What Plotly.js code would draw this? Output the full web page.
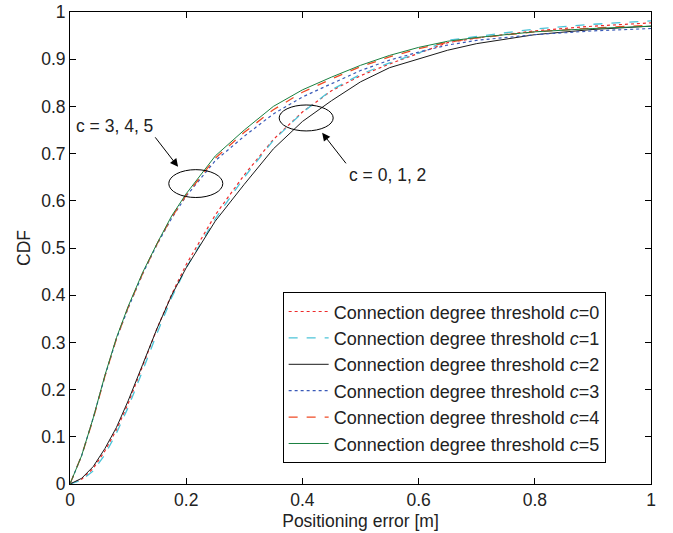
<!DOCTYPE html>
<html>
<head>
<meta charset="utf-8">
<script src="https://cdn.plot.ly/plotly-3.0.1.min.js"></script>
<style>html,body{margin:0;padding:0;background:#fff;}#chart{width:673px;height:533px;}</style>
</head>
<body>
<div id="chart"></div>
<script>
// Positioning error [m]
const xErr = [0, 0.02, 0.04, 0.06, 0.08, 0.1, 0.125, 0.15, 0.175, 0.2, 0.25, 0.3, 0.35, 0.4, 0.45, 0.5, 0.55, 0.6, 0.65, 0.7, 0.8, 0.9, 1.0];
// CDF for each connection degree threshold
const cdfC0 = [0, 0.010, 0.033, 0.070, 0.115, 0.170, 0.250, 0.330, 0.402, 0.465, 0.570, 0.655, 0.730, 0.788, 0.833, 0.865, 0.890, 0.912, 0.935, 0.945, 0.960, 0.970, 0.977];
const cdfC1 = [0, 0.008, 0.028, 0.062, 0.108, 0.162, 0.240, 0.320, 0.395, 0.458, 0.562, 0.650, 0.728, 0.787, 0.835, 0.868, 0.892, 0.913, 0.940, 0.948, 0.964, 0.974, 0.981];
const cdfC2 = [0, 0.012, 0.037, 0.075, 0.120, 0.176, 0.253, 0.330, 0.400, 0.458, 0.557, 0.635, 0.710, 0.768, 0.812, 0.852, 0.882, 0.901, 0.919, 0.933, 0.952, 0.963, 0.970];
const cdfC3 = [0, 0.060, 0.140, 0.228, 0.308, 0.372, 0.445, 0.508, 0.563, 0.610, 0.685, 0.737, 0.784, 0.820, 0.848, 0.876, 0.898, 0.915, 0.930, 0.940, 0.952, 0.960, 0.965];
const cdfC4 = [0, 0.060, 0.138, 0.228, 0.308, 0.374, 0.446, 0.509, 0.565, 0.612, 0.690, 0.745, 0.793, 0.830, 0.858, 0.884, 0.905, 0.922, 0.936, 0.945, 0.958, 0.966, 0.972];
const cdfC5 = [0, 0.060, 0.140, 0.230, 0.310, 0.376, 0.448, 0.510, 0.568, 0.615, 0.695, 0.750, 0.800, 0.835, 0.862, 0.887, 0.908, 0.925, 0.938, 0.946, 0.958, 0.965, 0.970];
const seriesNames = ['Connection degree threshold <i>c</i>=0','Connection degree threshold <i>c</i>=1','Connection degree threshold <i>c</i>=2','Connection degree threshold <i>c</i>=3','Connection degree threshold <i>c</i>=4','Connection degree threshold <i>c</i>=5'];
const xTicks = [0, 0.2, 0.4, 0.6, 0.8, 1];
const yTicks = [0, 0.1, 0.2, 0.3, 0.4, 0.5, 0.6, 0.7, 0.8, 0.9, 1];

const allY = [cdfC0, cdfC1, cdfC2, cdfC3, cdfC4, cdfC5];
const styles = [
  {color:'#ee2a2a', dash:'dot', width:1.2},
  {color:'#4cc4d8', dash:'dash', width:1.3},
  {color:'#1a1a1a', dash:'solid', width:1},
  {color:'#3a5ab8', dash:'dot', width:1.2},
  {color:'#f04a24', dash:'dash', width:1.3},
  {color:'#1a8040', dash:'solid', width:1}
];
const traces = allY.map((y,i)=>({x:xErr, y:y, type:'scatter', mode:'lines', name:seriesNames[i], line:styles[i]}));

const fam = 'Liberation Sans, Arial, sans-serif';
const fnt = {family:fam, size:17.5, color:'#222'};
const layout = {
  width:673, height:533,
  margin:{l:70, r:22, t:12, b:49},
  paper_bgcolor:'#fff', plot_bgcolor:'#fff',
  font:fnt,
  showlegend:true,
  legend:{x:0.366, y:0.225, xanchor:'left', yanchor:'middle', bordercolor:'#000', borderwidth:1, bgcolor:'#fff', font:{family:fam, size:18, color:'#222'}, tracegroupgap:0, itemwidth:40},
  xaxis:{range:[0,1], tickvals:xTicks, ticktext:xTicks.map(String), ticks:'inside', ticklen:6, tickcolor:'#000', showline:true, linecolor:'#000', linewidth:1, mirror:'ticks', showgrid:false, zeroline:false, title:{text:'Positioning error [m]', font:fnt, standoff:5}, tickfont:fnt},
  yaxis:{range:[0,1], tickvals:yTicks, ticktext:yTicks.map(String), ticks:'inside', ticklen:6, tickcolor:'#000', showline:true, linecolor:'#000', linewidth:1, mirror:'ticks', showgrid:false, zeroline:false, title:{text:'CDF', font:fnt, standoff:6}, tickfont:fnt},
  shapes:[
    {type:'circle', xref:'x', yref:'y', x0:0.170, x1:0.263, y0:0.607, y1:0.666, line:{color:'#000', width:1}},
    {type:'circle', xref:'x', yref:'y', x0:0.360, x1:0.453, y0:0.748, y1:0.803, line:{color:'#000', width:1}}
  ],
  annotations:[
    {x:0.077, y:0.759, xref:'x', yref:'y', text:'c = 3, 4, 5', showarrow:false, font:{family:fam, size:17.5, color:'#222'}},
    {x:0.546, y:0.655, xref:'x', yref:'y', text:'c = 0, 1, 2', showarrow:false, font:{family:fam, size:17.5, color:'#222'}},
    {x:0.186, y:0.672, xref:'x', yref:'y', text:'', showarrow:true, ax:-24, ay:-31, arrowhead:2, arrowsize:1.6, arrowwidth:1, arrowcolor:'#000', standoff:0},
    {x:0.434, y:0.744, xref:'x', yref:'y', text:'', showarrow:true, ax:25, ay:32, arrowhead:2, arrowsize:1.6, arrowwidth:1, arrowcolor:'#000', standoff:0}
  ]
};
Plotly.newPlot('chart', traces, layout, {displayModeBar:false, staticPlot:true});
</script>
</body>
</html>
